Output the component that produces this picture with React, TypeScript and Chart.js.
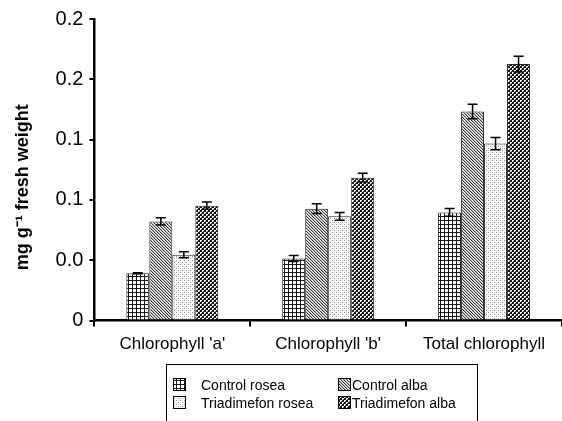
import React, { useEffect, useRef } from "react";
import { Chart, registerables } from "chart.js";

Chart.register(...registerables);

const categories = ["Chlorophyll 'a'", "Chlorophyll 'b'", "Total chlorophyll"];
const seriesNames = ["Control rosea", "Control alba", "Triadimefon rosea", "Triadimefon alba"];
const controlRosea = [0.0393, 0.0515, 0.0897];
const controlAlba = [0.0822, 0.0928, 0.1733];
const triadimefonRosea = [0.0546, 0.0864, 0.1467];
const triadimefonAlba = [0.0953, 0.1185, 0.2126];
const controlRoseaErr = [0.0004, 0.0025, 0.0033];
const controlAlbaErr = [0.003, 0.004, 0.006];
const triadimefonRoseaErr = [0.0025, 0.0033, 0.005];
const triadimefonAlbaErr = [0.003, 0.0036, 0.0066];
const yTickLabels = ["0", "0.0", "0.1", "0.1", "0.2", "0.2"];
const yTitle = "mg g\u207B\u00B9 fresh weight";

const FONT = "'Liberation Sans', Arial, sans-serif";

function makePattern(kind: string): CanvasPattern | string {
  const c = document.createElement("canvas");
  const s = kind === "diag" ? 3 : 4;
  c.width = s;
  c.height = s;
  const g = c.getContext("2d")!;
  g.fillStyle = "#ffffff";
  g.fillRect(0, 0, s, s);
  if (kind === "grid") {
    g.fillStyle = "#1a1a1a";
    g.fillRect(0, 0, s, 1);
    g.fillRect(0, 0, 1, s);
  } else if (kind === "diag") {
    g.fillStyle = "#333333";
    for (let i = 0; i < s; i++) g.fillRect(i, i, 1, 1);
    g.fillStyle = "#bbbbbb";
    for (let i = 0; i < s; i++) g.fillRect((i + 1) % s, i, 1, 1);
  } else if (kind === "dots") {
    g.fillStyle = "#888888";
    g.fillRect(0, 0, 1, 1);
    g.fillRect(2, 2, 1, 1);
    g.fillStyle = "#d4d4d4";
    g.fillRect(0, 2, 1, 1);
    g.fillRect(2, 0, 1, 1);
  } else if (kind === "check") {
    g.fillStyle = "#111111";
    g.fillRect(0, 0, s, s);
    g.fillStyle = "#ffffff";
    g.fillRect(0, 0, 2, 2);
    g.fillRect(2, 2, 2, 2);
    g.fillStyle = "#555555";
    g.fillRect(1, 1, 1, 1);
    g.fillRect(3, 3, 1, 1);
  }
  const p = g.createPattern(c, "repeat");
  return p || "#888";
}

export default function App() {
  const ref = useRef<HTMLCanvasElement | null>(null);
  useEffect(() => {
    if (!ref.current) return;
    const fills = [makePattern("grid"), makePattern("diag"), makePattern("dots"), makePattern("check")];
    const values = [controlRosea, controlAlba, triadimefonRosea, triadimefonAlba];
    const errs = [controlRoseaErr, controlAlbaErr, triadimefonRoseaErr, triadimefonAlbaErr];

    const errorBars = {
      id: "errorBars",
      afterDatasetsDraw(chart: any) {
        const ctx = chart.ctx;
        const y = chart.scales.y;
        ctx.save();
        ctx.strokeStyle = "#000";
        ctx.lineWidth = 1.5;
        chart.data.datasets.forEach((ds: any, di: number) => {
          const meta = chart.getDatasetMeta(di);
          meta.data.forEach((el: any, i: number) => {
            const v = ds.data[i];
            const e = errs[di][i];
            const x = el.x;
            const yt = y.getPixelForValue(v + e);
            const yb = y.getPixelForValue(v - e);
            ctx.beginPath();
            ctx.moveTo(x, yt);
            ctx.lineTo(x, yb);
            ctx.moveTo(x - 5, yt);
            ctx.lineTo(x + 5, yt);
            ctx.moveTo(x - 5, yb);
            ctx.lineTo(x + 5, yb);
            ctx.stroke();
          });
        });
        ctx.restore();
      },
    };

    const legendBox = {
      id: "legendBox",
      afterDraw(chart: any) {
        const ctx = chart.ctx;
        ctx.save();
        ctx.strokeStyle = "#000";
        ctx.lineWidth = 1;
        ctx.strokeRect(166.5, 364.5, 311, 70);
        const pos = [
          [173, 385],
          [338, 385],
          [173, 403],
          [338, 403],
        ];
        ctx.font = "14px " + FONT;
        ctx.textBaseline = "middle";
        ctx.textAlign = "left";
        seriesNames.forEach((n, i) => {
          const [x, yc] = pos[i];
          ctx.fillStyle = fills[i] as any;
          ctx.fillRect(x, yc - 7, 13, 13);
          ctx.strokeStyle = "#000";
          ctx.strokeRect(x + 0.5, yc - 6.5, 12, 12);
          ctx.fillStyle = "#000";
          ctx.fillText(n, x + 28 - (i % 2) * 14, yc + 1);
        });
        ctx.restore();
      },
    };

    const chart = new Chart(ref.current, {
      type: "bar",
      data: {
        labels: categories,
        datasets: seriesNames.map((n, i) => ({
          label: n,
          data: values[i],
          backgroundColor: fills[i] as any,
          borderColor: "#222",
          borderWidth: 1,
          categoryPercentage: 0.59,
          barPercentage: 1.0,
        })),
      },
      options: {
        animation: false,
        responsive: true,
        maintainAspectRatio: false,
        layout: { padding: { left: 12, right: 0, top: 19, bottom: 58 } },
        plugins: {
          legend: { display: false },
          tooltip: { enabled: false },
        },
        scales: {
          x: {
            grid: {
              offset: true,
              drawOnChartArea: false,
              drawTicks: true,
              tickLength: 6,
              color: "#000",
              lineWidth: 2,
            },
            border: { color: "#000", width: 2.5 },
            ticks: {
              color: "#000",
              font: { family: FONT, size: 17 },
              padding: 8,
            },
          },
          y: {
            min: 0,
            max: 0.25,
            grid: {
              drawOnChartArea: false,
              drawTicks: true,
              tickLength: 5,
              color: "#000",
              lineWidth: 2,
            },
            border: { color: "#000", width: 2.5 },
            ticks: {
              stepSize: 0.05,
              color: "#000",
              font: { family: FONT, size: 20 },
              padding: 6,
              callback: (_v: any, idx: number) => yTickLabels[idx],
            },
            title: {
              display: true,
              text: yTitle + "       ",
              color: "#000",
              font: { family: FONT, size: 18, weight: "bold" },
              padding: { top: 0, bottom: 16 },
            },
          },
        },
      },
      plugins: [errorBars, legendBox],
    });
    return () => chart.destroy();
  }, []);

  return (
    <div style={{ position: "fixed", left: 0, top: 0, width: 562, height: 421, background: "#fff" }}>
      <canvas ref={ref} />
    </div>
  );
}
